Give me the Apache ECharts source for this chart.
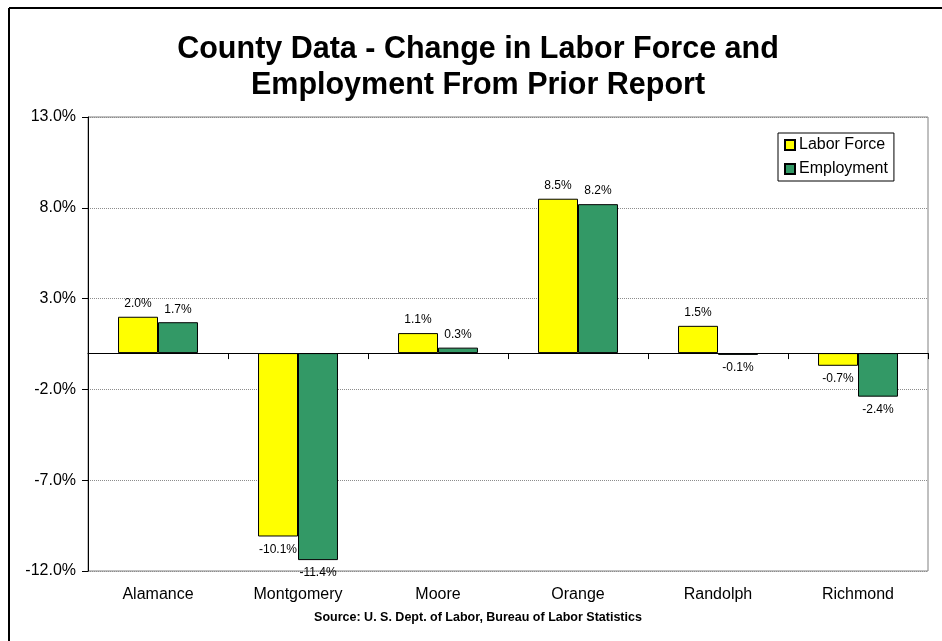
<!DOCTYPE html>
<html>
<head>
<meta charset="utf-8">
<script src="https://cdn.jsdelivr.net/npm/echarts@6/dist/echarts.min.js"></script>
<style>
  html, body { margin: 0; padding: 0; background: #fff; }
  #chart { width: 942px; height: 641px; }
</style>
</head>
<body>
<div id="chart"></div>
<script>
// County labour-market changes (percent change from prior report)
const counties = ['Alamance', 'Montgomery', 'Moore', 'Orange', 'Randolph', 'Richmond'];
const laborForce = [2.0, -10.1, 1.1, 8.5, 1.5, -0.7];
const employment = [1.7, -11.4, 0.3, 8.2, -0.1, -2.4];
const titleLines = ['County Data - Change in Labor Force and', 'Employment From Prior Report'];
const sourceNote = 'Source: U. S. Dept. of Labor, Bureau of Labor Statistics';

const FONT = '"Liberation Sans", Arial, sans-serif';

// Labels sit above positive bars and below negative ones
function withLabels(values) {
  return values.map(v => ({
    value: v,
    label: { position: v < 0 ? 'bottom' : 'top' }
  }));
}

const chart = echarts.init(document.getElementById('chart'), null, { renderer: 'canvas' });

const barLabel = {
  show: true,
  fontFamily: FONT,
  fontSize: 12,
  color: '#000',
  distance: 7,
  formatter: p => p.value.toFixed(1) + '%'
};

chart.setOption({
  animation: false,
  backgroundColor: '#fff',
  textStyle: { fontFamily: FONT },
  graphic: [
    // frame edges
    { type: 'line', shape: { x1: 9, y1: 8, x2: 942, y2: 8 }, style: { stroke: '#000', lineWidth: 2 } },
    { type: 'line', shape: { x1: 9, y1: 8, x2: 9, y2: 641 }, style: { stroke: '#000', lineWidth: 2 } },
    {
      type: 'text', x: 478, y: 50,
      style: { text: titleLines[0], fontFamily: FONT, fontSize: 30.5, fontWeight: 'bold', fill: '#000', align: 'center', verticalAlign: 'middle' }
    },
    {
      type: 'text', x: 478, y: 86,
      style: { text: titleLines[1], fontFamily: FONT, fontSize: 30.5, fontWeight: 'bold', fill: '#000', align: 'center', verticalAlign: 'middle' }
    },
    {
      type: 'text', x: 478, y: 618,
      style: { text: sourceNote, fontFamily: FONT, fontSize: 12.5, fontWeight: 'bold', fill: '#000', align: 'center', verticalAlign: 'middle' }
    }
  ],
  legend: {
    orient: 'vertical',
    left: 778,
    top: 133,
    padding: [4, 6, 4, 6],
    itemGap: 8,
    itemWidth: 10,
    itemHeight: 10,
    icon: 'rect',
    backgroundColor: '#fff',
    borderColor: '#000',
    borderWidth: 1,
    textStyle: { fontFamily: FONT, fontSize: 16, color: '#000', padding: [0, 0, 0, -1] },
    data: ['Labor Force', 'Employment']
  },
  grid: {
    left: 88,
    right: 14,
    top: 117,
    bottom: 70,
    show: true,
    borderColor: '#808080',
    borderWidth: 1,
    backgroundColor: '#fff'
  },
  xAxis: [
    {
      // zero line with boundary ticks
      type: 'category',
      data: counties,
      position: 'bottom',
      axisLine: { onZero: true, lineStyle: { color: '#000', width: 1 } },
      axisTick: { show: true, length: 6, lineStyle: { color: '#000' } },
      axisLabel: { show: false },
      splitLine: { show: false },
      z: 5
    },
    {
      // category names along the bottom edge
      type: 'category',
      data: counties,
      position: 'bottom',
      axisLine: { onZero: false, show: false },
      axisTick: { show: false },
      axisLabel: { fontFamily: FONT, fontSize: 16, color: '#000', margin: 16 },
      splitLine: { show: false }
    }
  ],
  yAxis: {
    type: 'value',
    min: -12,
    max: 13,
    interval: 5,
    axisLine: { show: true, lineStyle: { color: '#000', width: 1 } },
    axisTick: { show: true, length: 6, lineStyle: { color: '#000' } },
    axisLabel: {
      fontFamily: FONT, fontSize: 16, color: '#000', margin: 12,
      formatter: v => v.toFixed(1) + '%'
    },
    splitLine: { show: true, lineStyle: { color: '#8c8c8c', type: 'dotted', width: 1 } }
  },
  series: [
    {
      name: 'Labor Force',
      type: 'bar',
      xAxisIndex: 0,
      data: withLabels(laborForce),
      barGap: '0%',
      barCategoryGap: '42.9%',
      itemStyle: { color: '#FFFF00', borderColor: '#000', borderWidth: 1 },
      label: barLabel
    },
    {
      name: 'Employment',
      type: 'bar',
      xAxisIndex: 0,
      data: withLabels(employment),
      barGap: '0%',
      barCategoryGap: '42.9%',
      itemStyle: { color: '#339966', borderColor: '#000', borderWidth: 1 },
      label: barLabel
    }
  ]
});
</script>
</body>
</html>
